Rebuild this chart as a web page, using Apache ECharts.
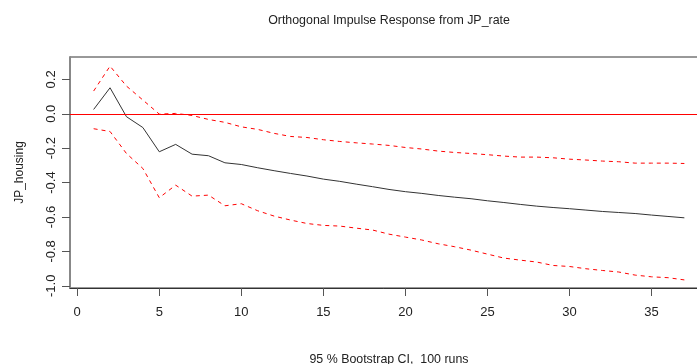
<!DOCTYPE html>
<html>
<head>
<meta charset="utf-8">
<script src="https://cdn.jsdelivr.net/npm/echarts@6/dist/echarts.min.js"></script>
<style>
  html, body { margin: 0; padding: 0; background: #fff; }
  #chart { width: 697px; height: 364px; }
</style>
</head>
<body>
<div id="chart"></div>
<script>
const horizon = [1, 2, 3, 4, 5, 6, 7, 8, 9, 10, 11, 12, 13, 14, 15, 16, 17, 18, 19,
  20, 21, 22, 23, 24, 25, 26, 27, 28, 29, 30, 31, 32, 33, 34, 35, 36, 37]

const response = [0.025, 0.151, -0.017, -0.08, -0.221, -0.178, -0.235, -0.244, -0.285,
  -0.295, -0.314, -0.331, -0.347, -0.362, -0.38, -0.393, -0.409, -0.424, -0.44,
  -0.453, -0.463, -0.475, -0.485, -0.494, -0.506, -0.516, -0.527, -0.537, -0.545,
  -0.552, -0.56, -0.568, -0.574, -0.58, -0.589, -0.597, -0.605]

const upper = [0.132, 0.277, 0.161, 0.08, -0.002, 0.002, -0.01, -0.033, -0.05,
  -0.076, -0.091, -0.114, -0.132, -0.138, -0.151, -0.161, -0.169, -0.176, -0.184,
  -0.196, -0.205, -0.217, -0.225, -0.231, -0.238, -0.246, -0.252, -0.252, -0.256,
  -0.264, -0.269, -0.275, -0.279, -0.287, -0.287, -0.287, -0.289]

const lower = [-0.087, -0.103, -0.231, -0.318, -0.488, -0.415, -0.479, -0.473, -0.535,
  -0.523, -0.564, -0.595, -0.618, -0.638, -0.649, -0.653, -0.665, -0.676, -0.7,
  -0.717, -0.734, -0.756, -0.773, -0.793, -0.816, -0.839, -0.851, -0.862, -0.882,
  -0.888, -0.901, -0.911, -0.92, -0.938, -0.948, -0.953, -0.966]

const xTicks = [0, 5, 10, 15, 20, 25, 30, 35]
const yTicks = [-1.0, -0.8, -0.6, -0.4, -0.2, 0.0, 0.2]

const pair = (ys) => horizon.map((h, i) => [h, ys[i]])

const font = 'Liberation Sans, Arial, sans-serif'
const chart = echarts.init(document.getElementById('chart'))

const dashed = (name, ys) => ({
  name,
  type: 'line',
  data: pair(ys),
  showSymbol: false,
  silent: true,
  lineStyle: { color: '#ff0000', width: 1, type: [4, 4] },
})

chart.setOption({
  animation: false,
  title: [
    {
      text: 'Orthogonal Impulse Response from JP_rate',
      left: 384,
      top: 10,
      textAlign: 'center',
      textStyle: { fontFamily: font, fontSize: 12.4, fontWeight: 'normal', color: '#222' },
    },
    {
      text: '95 % Bootstrap CI,  100 runs',
      left: 384,
      top: 349,
      textAlign: 'center',
      textStyle: { fontFamily: font, fontSize: 12.4, fontWeight: 'normal', color: '#222' },
    },
  ],
  grid: {
    left: 70,
    top: 57,
    width: 638,
    height: 231,
    outerBoundsMode: 'none',
    containLabel: false,
    show: true,
    borderColor: '#333',
    borderWidth: 1,
  },
  xAxis: {
    type: 'value',
    min: -0.44,
    max: 38.44,
    splitLine: { show: false },
    axisLine: { onZero: false, lineStyle: { color: '#333', width: 1 } },
    axisTick: { customValues: xTicks, length: 8, lineStyle: { color: '#555' } },
    axisLabel: {
      customValues: xTicks,
      margin: 18,
      fontFamily: font,
      fontSize: 13,
      color: '#222',
    },
  },
  yAxis: {
    type: 'value',
    min: -1.013,
    max: 0.33,
    name: 'JP_housing',
    nameLocation: 'middle',
    nameRotate: 90,
    nameGap: 44,
    nameTextStyle: { fontFamily: font, fontSize: 12, color: '#222' },
    splitLine: { show: false },
    axisLine: { show: true, onZero: false, lineStyle: { color: '#888', width: 2 } },
    axisTick: { customValues: yTicks, length: 8, lineStyle: { color: '#555' } },
    axisLabel: {
      customValues: yTicks,
      rotate: 90,
      margin: 12,
      fontFamily: font,
      fontSize: 13,
      color: '#222',
      formatter: (v) => v.toFixed(1),
    },
  },
  series: [
    {
      name: 'JP_housing',
      type: 'line',
      data: pair(response),
      showSymbol: false,
      silent: true,
      lineStyle: { color: '#333', width: 1 },
      markLine: {
        silent: true,
        symbol: 'none',
        label: { show: false },
        lineStyle: { color: '#ff0000', width: 1, type: 'solid' },
        data: [{ yAxis: 0 }],
      },
    },
    dashed('Upper', upper),
    dashed('Lower', lower),
  ],
})
</script>
</body>
</html>
